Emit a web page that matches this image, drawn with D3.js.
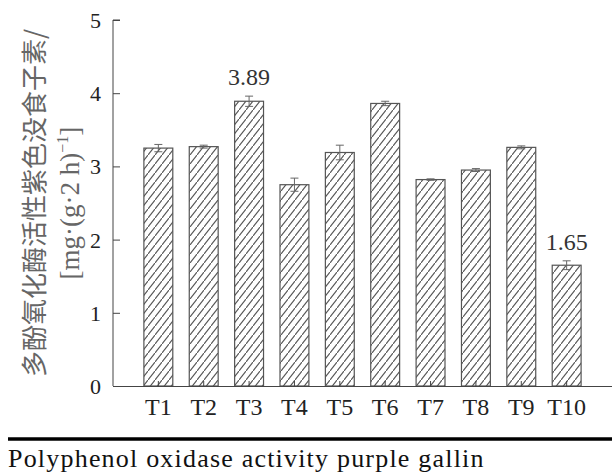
<!DOCTYPE html>
<html>
<head>
<meta charset="utf-8">
<script src="https://cdn.jsdelivr.net/npm/d3@7"></script>
<style>
  body { margin: 0; background: #fff; }
  svg { display: block; }
  text { font-family: 'Liberation Serif', 'Times New Roman', serif; }
</style>
</head>
<body>
<div id="bar_chart"></div>
<script>
var categories = ["T1", "T2", "T3", "T4", "T5", "T6", "T7", "T8", "T9", "T10"];
var values = [3.25, 3.27, 3.89, 2.75, 3.19, 3.86, 2.82, 2.95, 3.26, 1.65];
var errors = [0.05, 0.02, 0.07, 0.09, 0.10, 0.03, 0.01, 0.02, 0.02, 0.06];
var yTicks = [0, 1, 2, 3, 4, 5];
var labelled = { "T3": "3.89", "T10": "1.65" };

var serif = "'Liberation Serif', 'Times New Roman', serif";
var W = 612, H = 475;
var margin = { top: 20, right: 0, bottom: 89, left: 113 };
var width = W - margin.left - margin.right,
    height = H - margin.top - margin.bottom;

var root = d3.select("#bar_chart")
  .append("svg")
  .attr("width", W)
  .attr("height", H);

// hatch pattern for the bars
var defs = root.append("defs");
var pat = defs.append("pattern")
  .attr("id", "hatch")
  .attr("patternUnits", "userSpaceOnUse")
  .attr("width", 7)
  .attr("height", 9);
pat.append("rect").attr("width", 7).attr("height", 9).attr("fill", "#fff");
pat.append("path")
  .attr("d", "M-1,10.3 L8,-1.3")
  .attr("stroke", "#555")
  .attr("stroke-width", 1.1);

var svg = root.append("g")
  .attr("transform", "translate(" + margin.left + "," + margin.top + ")");

var x = d3.scaleBand()
  .domain(categories)
  .range([0, width])
  .paddingInner(0.363)
  .paddingOuter(0.681);

var y = d3.scaleLinear()
  .domain([0, 5])
  .range([height, 0]);

// bars
svg.selectAll(".bar")
  .data(categories)
  .enter().append("rect")
  .attr("x", d => x(d))
  .attr("y", (d, i) => y(values[i]))
  .attr("width", x.bandwidth())
  .attr("height", (d, i) => height - y(values[i]))
  .attr("fill", "url(#hatch)")
  .attr("stroke", "#555")
  .attr("stroke-width", 1.2);

// error bars
var eb = svg.selectAll(".err")
  .data(categories)
  .enter().append("g")
  .attr("transform", d => "translate(" + (x(d) + x.bandwidth() / 2) + ",0)");
eb.append("line")
  .attr("y1", (d, i) => y(values[i] + errors[i]))
  .attr("y2", (d, i) => y(values[i] - errors[i]))
  .attr("stroke", "#666");
eb.append("line")
  .attr("x1", -4).attr("x2", 4)
  .attr("y1", (d, i) => y(values[i] + errors[i]))
  .attr("y2", (d, i) => y(values[i] + errors[i]))
  .attr("stroke", "#666");
eb.append("line")
  .attr("x1", -4).attr("x2", 4)
  .attr("y1", (d, i) => y(values[i] - errors[i]))
  .attr("y2", (d, i) => y(values[i] - errors[i]))
  .attr("stroke", "#666");

// value labels
svg.selectAll(".vlab")
  .data(categories.filter(d => labelled[d]))
  .enter().append("text")
  .attr("x", d => x(d) + x.bandwidth() / 2)
  .attr("y", d => y(values[categories.indexOf(d)] + errors[categories.indexOf(d)]) - 11)
  .attr("text-anchor", "middle")
  .attr("font-family", serif)
  .attr("font-size", 24)
  .attr("fill", "#333")
  .text(d => labelled[d]);

// y axis
var yAxis = g => g
  .call(d3.axisRight(y).tickValues(yTicks).tickSize(7).tickFormat(d3.format("d")))
  .call(g => g.select(".domain").attr("d", "M7,0H0V" + height))
  .call(g => g.selectAll(".tick line").attr("stroke", "#444"))
  .call(g => g.selectAll(".tick text")
    .attr("x", -12)
    .attr("dy", "0.34em")
    .attr("text-anchor", "end")
    .attr("font-family", serif)
    .attr("font-size", 22)
    .attr("fill", "#222"));

var xAxis = g => g
  .attr("transform", "translate(0," + height + ")")
  .call(d3.axisTop(x).tickSize(5).tickSizeOuter(0))
  .call(g => g.select(".domain").attr("stroke", "#444"))
  .call(g => g.selectAll(".tick line").attr("stroke", "#444"))
  .call(g => g.selectAll(".tick text")
    .attr("y", 29)
    .attr("dy", 0)
    .attr("font-family", serif)
    .attr("font-size", 24)
    .attr("fill", "#222"));

svg.append("g").call(xAxis);
svg.append("g").call(yAxis);
svg.selectAll(".domain").attr("stroke", "#444");

// y axis title
var yt = root.append("text")
  .attr("transform", "translate(0," + (margin.top + height / 2) + ") rotate(-90)")
  .attr("text-anchor", "middle")
  .attr("fill", "#666");
yt.append("tspan").attr("x", 0).attr("y", 44).attr("font-size", 26)
  .attr("font-family", "'Noto Sans CJK SC', sans-serif")
  .text("多酚氧化酶活性紫色没食子素/");
yt.append("tspan").attr("x", 0).attr("y", 79).attr("font-size", 27)
  .attr("font-family", serif)
  .text("[mg·(g·2 h)")
  .append("tspan").attr("dy", -11).attr("font-size", 16).text("−1");
yt.append("tspan").attr("dy", 11).attr("font-size", 27)
  .attr("font-family", serif).text("]");

// rule and caption
root.append("line")
  .attr("x1", 8).attr("x2", W)
  .attr("y1", 439).attr("y2", 439)
  .attr("stroke", "#000")
  .attr("stroke-width", 3.5);

root.append("text")
  .attr("x", 8)
  .attr("y", 467)
  .attr("font-family", serif)
  .attr("font-size", 26)
  .attr("letter-spacing", 1.2)
  .attr("fill", "#111")
  .text("Polyphenol oxidase activity purple gallin");
</script>
</body>
</html>
